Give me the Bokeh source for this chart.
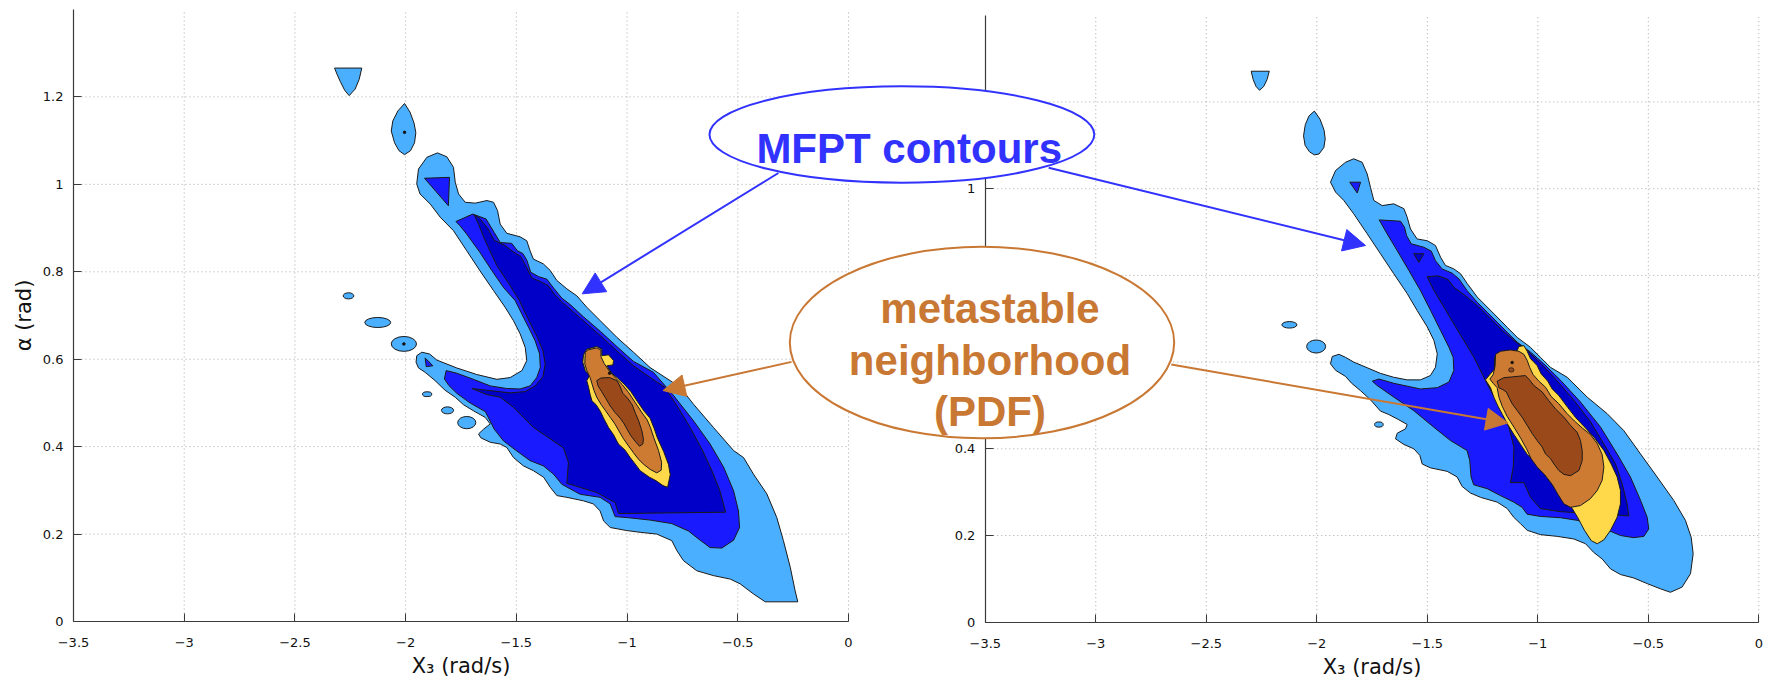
import math
from bokeh.plotting import figure
from bokeh.models import Range1d, LinearAxis, FixedTicker, Arrow, NormalHead
from bokeh.embed import file_html
from bokeh.resources import INLINE
from bokeh.core.properties import value

# ---------------- axes / labels ----------------
x_ticks = [-3.5, -3.0, -2.5, -2.0, -1.5, -1.0, -0.5, 0.0]
x_tick_labels = ["\u22123.5", "\u22123", "\u22122.5", "\u22122", "\u22121.5", "\u22121", "\u22120.5", "0"]
y_ticks = [0.0, 0.2, 0.4, 0.6, 0.8, 1.0, 1.2]
y_tick_labels = ["0", "0.2", "0.4", "0.6", "0.8", "1", "1.2"]
x_label = ["X\u2083 (rad/s)"]
y_label = ["\u03b1 (rad)"]
blue_note = ["MFPT contours"]
orange_note = ["metastable", "neighborhood", "(PDF)"]

# ---------------- left panel contour regions (X3, alpha) ----------------
L_LIGHT_MAIN = [(-1.942,1.035),(-1.904,1.062),(-1.856,1.072),(-1.814,1.063),(-1.784,1.039),(-1.776,1.005),(-1.761,0.978),(-1.731,0.959),(-1.686,0.957),(-1.633,0.963),(-1.603,0.959),(-1.585,0.940),(-1.573,0.909),(-1.543,0.888),(-1.483,0.880),(-1.453,0.871),(-1.438,0.848),(-1.423,0.829),(-1.378,0.818),(-1.347,0.803),(-1.317,0.780),(-1.272,0.761),(-1.227,0.745),(-1.182,0.719),(-1.121,0.688),(-1.046,0.650),(-0.971,0.616),(-0.896,0.581),
    (-0.851,0.566),(-0.760,0.536),(-0.700,0.497),(-0.610,0.444),(-0.519,0.391),(-0.474,0.375),(-0.429,0.337),(-0.369,0.292),(-0.324,0.238),(-0.294,0.185),(-0.263,0.124),(-0.241,0.070),(-0.229,0.045),(-0.376,0.045),(-0.429,0.063),(-0.489,0.086),(-0.534,0.097),(-0.610,0.105),(-0.685,0.116),(-0.745,0.139),(-0.775,0.162),(-0.798,0.185),(-0.866,0.200),(-0.941,0.204),(-1.001,0.208),(-1.076,0.215),(-1.106,0.230),(-1.122,0.253),(-1.152,0.269),(-1.197,0.276),(-1.272,0.284),(-1.317,0.288),(-1.347,0.307),(-1.377,0.330),(-1.423,0.345),(-1.468,0.356),(-1.513,0.375),(-1.543,0.398),(-1.573,0.406),
    (-1.618,0.410),(-1.660,0.420),(-1.671,0.429),(-1.648,0.440),(-1.618,0.452),(-1.641,0.467),(-1.694,0.482),(-1.739,0.496),(-1.776,0.513),(-1.822,0.529),(-1.867,0.551),(-1.912,0.570),(-1.942,0.580),(-1.953,0.593),(-1.950,0.608),(-1.927,0.616),(-1.892,0.612),
    (-1.859,0.598),(-1.769,0.580),(-1.679,0.565),(-1.588,0.554),(-1.528,0.558),(-1.475,0.574),(-1.453,0.597),(-1.460,0.627),(-1.483,0.658),(-1.513,0.688),(-1.551,0.719),
    (-1.603,0.757),(-1.664,0.802),(-1.724,0.848),(-1.784,0.894),(-1.844,0.925),(-1.889,0.955),(-1.935,0.978),(-1.950,1.001)]
L_LIGHT_CAP = [(-2.321,1.266),(-2.198,1.266),(-2.210,1.240),(-2.228,1.218),(-2.255,1.203),(-2.275,1.215),(-2.295,1.235),(-2.310,1.252)]
L_LIGHT_LENS = [(-2.005,1.185),(-1.980,1.165),(-1.962,1.140),(-1.954,1.118),(-1.960,1.095),(-1.978,1.077),(-2.005,1.068),(-2.030,1.077),(-2.050,1.095),(-2.065,1.122),(-2.058,1.145),(-2.035,1.168)]
L_BLOB_X = [-2.258, -2.126, -2.008, -1.903, -1.811, -1.724]
L_BLOB_Y = [0.745, 0.684, 0.635, 0.520, 0.483, 0.455]
L_BLOB_W = [0.048, 0.117, 0.114, 0.042, 0.055, 0.082]
L_BLOB_H = [0.014, 0.023, 0.034, 0.011, 0.016, 0.028]

L_MED_MAIN = [(-1.773,0.915),(-1.697,0.932),(-1.637,0.921),(-1.600,0.890),(-1.573,0.867),(-1.521,0.865),(-1.495,0.848),(-1.471,0.842),(-1.453,0.827),(-1.435,0.799),(-1.400,0.789),(-1.362,0.783),(-1.332,0.763),(-1.295,0.740),(-1.257,0.725),(-1.197,0.697),(-1.121,0.664),(-1.046,0.629),(-0.971,0.595),
    (-0.881,0.570),(-0.790,0.517),(-0.700,0.459),(-0.625,0.406),(-0.564,0.353),(-0.519,0.299),(-0.497,0.253),(-0.492,0.215),(-0.519,0.186),(-0.572,0.168),(-0.625,0.169),(-0.670,0.186),(-0.723,0.207),(-0.798,0.224),(-0.896,0.232),(-0.986,0.237),(-1.054,0.240),(-1.076,0.269),(-1.122,0.284),(-1.212,0.291),(-1.295,0.314),(-1.332,0.337),(-1.378,0.356),(-1.438,0.368),(-1.498,0.390),(-1.558,0.413),(-1.600,0.440),(-1.640,0.480),(-1.709,0.500),(-1.769,0.522),(-1.805,0.540),(-1.825,0.555),(-1.817,0.574),
    (-1.769,0.568),(-1.694,0.554),(-1.618,0.539),(-1.543,0.533),(-1.483,0.532),(-1.438,0.539),(-1.408,0.558),(-1.392,0.581),(-1.395,0.612),(-1.415,0.642),(-1.445,0.673),(-1.475,0.703),(-1.505,0.734),(-1.558,0.764),(-1.611,0.803),(-1.664,0.844),(-1.724,0.886),(-1.754,0.905)]
L_MED_TRI_TOP = [(-1.915,1.014),(-1.802,1.016),(-1.807,0.951)]
L_MED_TRI_TIP = [(-1.912,0.603),(-1.877,0.585),(-1.907,0.583)]

L_DARK_MAIN = [(-1.691,0.931),(-1.665,0.922),(-1.630,0.900),(-1.600,0.872),(-1.551,0.860),(-1.515,0.846),(-1.480,0.835),(-1.456,0.812),(-1.430,0.786),(-1.392,0.778),(-1.355,0.768),(-1.329,0.749),(-1.290,0.729),(-1.197,0.688),(-1.121,0.654),(-1.046,0.619),(-0.971,0.585),(-0.900,0.560),(-0.830,0.536),(-0.775,0.494),(-0.715,0.444),(-0.660,0.392),(-0.615,0.343),(-0.580,0.298),(-0.555,0.250),(-1.039,0.247),(-1.054,0.272),(-1.137,0.295),(-1.272,0.316),(-1.265,0.364),(-1.287,0.397),(-1.423,0.444),(-1.513,0.490),(-1.573,0.513),(-1.633,0.519),(-1.701,0.533),(-1.633,0.529),(-1.528,0.523),(-1.460,0.526),(-1.415,0.539),(-1.380,0.560),(-1.370,0.589),(-1.380,0.619),(-1.405,0.650),(-1.435,0.680),(-1.465,0.711),(-1.486,0.734),(-1.528,0.768),(-1.588,0.814),(-1.641,0.871),(-1.671,0.909)]

L_YELLOW = [(-1.197,0.610),(-1.182,0.623),(-1.137,0.629),(-1.114,0.623),(-1.114,0.608),(-1.084,0.610),(-1.061,0.597),(-1.064,0.587),(-1.091,0.585),(-1.073,0.570),(-1.043,0.557),(-1.013,0.543),(-0.983,0.526),(-0.953,0.503),(-0.923,0.481),(-0.896,0.465),(-0.878,0.442),(-0.863,0.420),(-0.835,0.389),(-0.813,0.359),(-0.805,0.336),(-0.817,0.307),(-0.838,0.311),(-0.869,0.322),(-0.899,0.330),(-0.941,0.345),(-0.963,0.360),(-0.986,0.375),(-1.009,0.392),(-1.039,0.406),(-1.061,0.427),(-1.084,0.444),(-1.106,0.465),(-1.121,0.481),(-1.140,0.496),(-1.159,0.505),(-1.167,0.520),(-1.174,0.536),(-1.182,0.551),(-1.170,0.562),(-1.189,0.574),(-1.200,0.593)]
L_ORANGE = [(-1.189,0.615),(-1.179,0.621),(-1.137,0.626),(-1.118,0.621),(-1.118,0.606),(-1.103,0.590),(-1.079,0.572),(-1.052,0.557),(-1.022,0.542),(-0.992,0.523),(-0.962,0.500),(-0.932,0.477),(-0.909,0.461),(-0.894,0.443),(-0.879,0.420),(-0.858,0.391),(-0.844,0.364),(-0.846,0.346),(-0.866,0.340),(-0.896,0.348),(-0.926,0.360),(-0.950,0.372),(-0.971,0.386),(-0.994,0.402),(-1.016,0.418),(-1.037,0.436),(-1.055,0.452),(-1.076,0.467),(-1.097,0.482),(-1.118,0.497),(-1.137,0.513),(-1.149,0.528),(-1.158,0.543),(-1.167,0.558),(-1.182,0.574),(-1.191,0.589)]
L_BROWN = [(-1.137,0.551),(-1.118,0.557),(-1.079,0.558),(-1.046,0.551),(-1.031,0.537),(-1.019,0.522),(-0.998,0.511),(-0.977,0.496),(-0.962,0.476),(-0.947,0.458),(-0.933,0.436),(-0.926,0.417),(-0.929,0.406),(-0.944,0.401),(-0.963,0.412),(-0.983,0.425),(-0.998,0.438),(-1.013,0.452),(-1.031,0.465),(-1.054,0.478),(-1.076,0.493),(-1.097,0.511),(-1.115,0.526),(-1.131,0.539)]
L_DOT_X = [-2.005, -2.008, -1.079]
L_DOT_Y = [1.119, 0.635, 0.568]

# ---------------- right panel contour regions (X3, alpha) ----------------
R_LIGHT_MAIN = [(-1.938,1.015),(-1.915,1.042),(-1.870,1.061),(-1.833,1.069),(-1.795,1.061),(-1.772,1.034),(-1.757,1.003),(-1.742,0.973),(-1.704,0.961),(-1.652,0.965),(-1.606,0.954),(-1.591,0.934),(-1.576,0.907),(-1.546,0.884),(-1.500,0.880),(-1.463,0.869),(-1.440,0.842),(-1.418,0.823),(-1.380,0.815),(-1.350,0.804),(-1.319,0.781),(-1.274,0.750),(-1.229,0.727),(-1.184,0.704),(-1.138,0.680),(-1.093,0.657),(-1.033,0.634),(-0.988,0.611),(-0.943,0.588),
    (-0.867,0.565),(-0.776,0.519),(-0.686,0.481),(-0.611,0.442),(-0.535,0.388),(-0.460,0.335),(-0.385,0.281),(-0.332,0.235),(-0.306,0.196),(-0.297,0.158),(-0.309,0.112),(-0.347,0.081),(-0.400,0.069),(-0.445,0.077),(-0.505,0.089),(-0.566,0.102),(-0.626,0.110),(-0.671,0.123),(-0.709,0.146),(-0.747,0.161),(-0.784,0.181),(-0.837,0.192),(-0.912,0.198),(-0.988,0.202),(-1.048,0.212),(-1.078,0.227),(-1.109,0.242),(-1.138,0.262),(-1.184,0.277),(-1.259,0.288),(-1.305,0.298),(-1.342,0.313),(-1.365,0.335),(-1.410,0.348),(-1.486,0.356),(-1.523,0.365),(-1.534,0.385),(-1.561,0.400),(-1.606,0.410),(-1.644,0.423),(-1.636,0.436),(-1.599,0.446),(-1.591,0.456),(-1.629,0.467),(-1.674,0.479),(-1.712,0.487),
    (-1.757,0.513),(-1.802,0.534),(-1.844,0.552),(-1.870,0.567),(-1.915,0.581),(-1.938,0.596),(-1.930,0.613),
    (-1.900,0.618),(-1.870,0.611),(-1.833,0.600),(-1.772,0.587),(-1.712,0.574),(-1.652,0.565),(-1.591,0.559),(-1.531,0.559),(-1.486,0.569),(-1.463,0.588),(-1.455,0.619),(-1.470,0.650),(-1.500,0.681),(-1.546,0.719),(-1.591,0.758),(-1.652,0.804),(-1.712,0.850),(-1.772,0.896),(-1.833,0.942),(-1.878,0.973),(-1.915,0.992)]
R_LIGHT_CAP = [(-2.297,1.271),(-2.215,1.271),(-2.225,1.252),(-2.240,1.236),(-2.259,1.227),(-2.275,1.236),(-2.288,1.252)]
R_LIGHT_LENS = [(-2.011,1.179),(-1.985,1.160),(-1.967,1.135),(-1.962,1.115),(-1.968,1.095),(-1.990,1.080),(-2.011,1.078),(-2.033,1.085),(-2.053,1.100),(-2.060,1.122),(-2.052,1.148),(-2.035,1.168)]
R_BLOB_X = [-2.124, -2.003, -1.719]
R_BLOB_Y = [0.686, 0.636, 0.456]
R_BLOB_W = [0.068, 0.086, 0.039]
R_BLOB_H = [0.015, 0.030, 0.012]

R_MED_MAIN = [(-1.718,0.928),(-1.621,0.925),(-1.603,0.911),(-1.594,0.892),(-1.573,0.873),(-1.516,0.865),(-1.482,0.856),(-1.463,0.834),(-1.433,0.815),(-1.387,0.805),(-1.357,0.792),(-1.320,0.765),(-1.274,0.738),(-1.229,0.715),(-1.184,0.692),(-1.139,0.669),(-1.093,0.646),(-1.033,0.623),
    (-0.973,0.596),(-0.897,0.558),(-0.807,0.508),(-0.716,0.450),(-0.641,0.388),(-0.581,0.335),(-0.535,0.281),(-0.505,0.242),(-0.498,0.215),(-0.520,0.198),(-0.566,0.195),(-0.626,0.200),(-0.686,0.213),(-0.747,0.225),(-0.822,0.235),(-0.897,0.241),(-0.988,0.244),(-1.048,0.249),(-1.071,0.265),(-1.109,0.277),(-1.169,0.292),(-1.229,0.308),(-1.290,0.317),(-1.302,0.335),(-1.308,0.373),(-1.320,0.396),(-1.395,0.419),(-1.471,0.450),(-1.561,0.488),
    (-1.651,0.519),(-1.727,0.546),(-1.749,0.556),(-1.719,0.561),(-1.651,0.551),(-1.531,0.538),(-1.455,0.541),(-1.402,0.554),(-1.380,0.581),(-1.383,0.611),(-1.402,0.634),(-1.440,0.673),(-1.485,0.719),(-1.531,0.765),(-1.583,0.811),(-1.636,0.857),(-1.682,0.896),(-1.712,0.923)]
R_MED_TRI = [(-1.851,1.015),(-1.802,1.015),(-1.817,0.990)]

R_DARK_MAIN = [(-1.501,0.797),(-1.452,0.799),(-1.407,0.791),(-1.380,0.773),(-1.320,0.750),(-1.267,0.727),(-1.214,0.700),(-1.161,0.673),(-1.108,0.650),(-1.048,0.627),(-0.985,0.596),(-0.915,0.558),(-0.835,0.511),(-0.765,0.465),(-0.710,0.419),(-0.648,0.365),(-0.618,0.319),(-0.596,0.273),(-0.588,0.245),(-0.656,0.248),(-0.807,0.252),(-0.897,0.255),(-0.988,0.262),(-1.033,0.288),(-1.063,0.322),(-1.124,0.322),(-1.111,0.358),(-1.108,0.404),(-1.131,0.450),(-1.169,0.496),(-1.214,0.535),(-1.244,0.565),(-1.289,0.611),(-1.335,0.650),(-1.380,0.688),(-1.425,0.727),(-1.470,0.765)]
R_DARK_TRI = [(-1.561,0.850),(-1.516,0.850),(-1.538,0.830)]

R_YELLOW = [(-1.237,0.559),(-1.214,0.573),(-1.196,0.584),(-1.196,0.611),(-1.169,0.623),(-1.124,0.625),(-1.093,0.627),(-1.086,0.636),(-1.063,0.638),(-1.048,0.625),(-1.033,0.608),(-1.003,0.592),(-0.985,0.573),(-0.955,0.556),(-0.935,0.538),(-0.905,0.523),(-0.864,0.495),(-0.829,0.472),(-0.784,0.448),(-0.743,0.425),(-0.701,0.396),(-0.668,0.365),(-0.641,0.335),(-0.626,0.304),(-0.626,0.273),(-0.641,0.242),(-0.671,0.212),(-0.701,0.190),(-0.731,0.181),(-0.758,0.188),(-0.789,0.212),(-0.819,0.241),(-0.844,0.262),(-0.875,0.285),(-0.920,0.308),(-0.955,0.331),(-0.988,0.354),(-1.018,0.372),(-1.048,0.387),(-1.078,0.410),(-1.108,0.433),(-1.136,0.456),(-1.160,0.479),(-1.181,0.499),(-1.199,0.519),(-1.214,0.541)]
R_ORANGE = [(-1.191,0.618),(-1.169,0.625),(-1.124,0.628),(-1.086,0.625),(-1.063,0.618),(-1.048,0.604),(-1.036,0.587),(-1.021,0.571),(-0.995,0.556),(-0.965,0.542),(-0.940,0.521),(-0.905,0.504),(-0.867,0.481),(-0.834,0.464),(-0.799,0.448),(-0.762,0.433),(-0.731,0.412),(-0.709,0.387),(-0.701,0.358),(-0.709,0.327),(-0.731,0.304),(-0.762,0.285),(-0.807,0.269),(-0.852,0.265),(-0.882,0.273),(-0.909,0.295),(-0.935,0.318),(-0.970,0.341),(-1.003,0.358),(-1.030,0.377),(-1.051,0.400),(-1.078,0.425),(-1.108,0.450),(-1.139,0.475),(-1.161,0.498),(-1.176,0.519),(-1.184,0.541),(-1.202,0.551),(-1.217,0.561),(-1.202,0.571),(-1.193,0.592)]
R_BROWN = [(-1.184,0.556),(-1.154,0.564),(-1.093,0.567),(-1.056,0.569),(-1.036,0.558),(-1.018,0.546),(-0.980,0.531),(-0.950,0.511),(-0.920,0.492),(-0.882,0.473),(-0.852,0.454),(-0.822,0.438),(-0.807,0.419),(-0.799,0.396),(-0.799,0.373),(-0.814,0.350),(-0.852,0.338),(-0.882,0.341),(-0.905,0.350),(-0.927,0.365),(-0.942,0.377),(-0.965,0.388),(-0.980,0.404),(-1.003,0.419),(-1.025,0.435),(-1.048,0.454),(-1.071,0.473),(-1.093,0.488),(-1.116,0.504),(-1.131,0.519),(-1.142,0.531),(-1.157,0.536),(-1.176,0.541)]
R_SPOT_X = [-1.120]
R_SPOT_Y = [0.582]
R_SPOT_W = [0.024]
R_SPOT_H = [0.010]
R_DOT_X = [-1.116]
R_DOT_Y = [0.599]

# ---------------- styling ----------------
EDGE = "#1a1a1a"
C_LIGHT = "#4aafff"
C_MED = "#1a1aff"
C_DARK = "#0000c8"
C_YEL = "#ffd94a"
C_ORA = "#cd7b33"
C_BRN = "#9a4a1a"
AXIS_C = "#3a3a3a"
GRID_C = "#a8a8a8"
BLUE_NOTE = "#3232ff"
ORANGE_NOTE = "#c97834"
TXT_C = "#111111"

# one drawing area for the whole page; each panel has its own pair of ranges
p = figure(width=1774, height=681, output_backend="svg", toolbar_location=None, tools="",
           x_axis_location=None, y_axis_location=None,
           x_range=Range1d(-3.8297, 4.1819), y_range=Range1d(-0.13726, 1.42059),
           min_border_left=0, min_border_right=0, min_border_top=0, min_border_bottom=0)
p.extra_x_ranges = {"xr": Range1d(-7.9561, 0.0710)}
p.extra_y_ranges = {"yr": Range1d(-0.13679, 1.43414)}
p.outline_line_color = None
p.background_fill_color = "white"
p.border_fill_color = "white"
p.grid.visible = False

RIGHT = dict(x_range_name="xr", y_range_name="yr")
LEFT = {}

# dotted grid lines, each panel
gx = x_ticks[1:]
gy = y_ticks[1:]
for rng in (LEFT, RIGHT):
    p.segment(x0=gx, y0=[0.0] * len(gx), x1=gx, y1=[1.4] * len(gx),
              line_color=GRID_C, line_dash="1 3", line_width=1, level="underlay", **rng)
    p.segment(x0=[-3.5] * len(gy), y0=gy, x1=[0.0] * len(gy), y1=gy,
              line_color=GRID_C, line_dash="1 3", line_width=1, level="underlay", **rng)


def add_polys(polys, color, rng):
    xs = [[pt[0] for pt in poly] for poly in polys]
    ys = [[pt[1] for pt in poly] for poly in polys]
    p.patches(xs=xs, ys=ys, fill_color=color, line_color=EDGE, line_width=1.0, **rng)


# left panel
add_polys([L_LIGHT_MAIN, L_LIGHT_CAP, L_LIGHT_LENS], C_LIGHT, LEFT)
p.ellipse(x=L_BLOB_X, y=L_BLOB_Y, width=L_BLOB_W, height=L_BLOB_H,
          fill_color=C_LIGHT, line_color=EDGE, line_width=1.0)
add_polys([L_MED_MAIN, L_MED_TRI_TOP, L_MED_TRI_TIP], C_MED, LEFT)
add_polys([L_DARK_MAIN], C_DARK, LEFT)
add_polys([L_YELLOW], C_YEL, LEFT)
add_polys([L_ORANGE], C_ORA, LEFT)
add_polys([L_BROWN], C_BRN, LEFT)
p.scatter(x=L_DOT_X, y=L_DOT_Y, size=2.5, color=TXT_C)

# right panel
add_polys([R_LIGHT_MAIN, R_LIGHT_CAP, R_LIGHT_LENS], C_LIGHT, RIGHT)
p.ellipse(x=R_BLOB_X, y=R_BLOB_Y, width=R_BLOB_W, height=R_BLOB_H,
          fill_color=C_LIGHT, line_color=EDGE, line_width=1.0, **RIGHT)
add_polys([R_MED_MAIN, R_MED_TRI], C_MED, RIGHT)
add_polys([R_DARK_MAIN, R_DARK_TRI], C_DARK, RIGHT)
add_polys([R_YELLOW], C_YEL, RIGHT)
add_polys([R_ORANGE], C_ORA, RIGHT)
add_polys([R_BROWN], C_BRN, RIGHT)
p.ellipse(x=R_SPOT_X, y=R_SPOT_Y, width=R_SPOT_W, height=R_SPOT_H,
          fill_color=C_BRN, line_color=EDGE, line_width=0.8, **RIGHT)
p.scatter(x=R_DOT_X, y=R_DOT_Y, size=2.5, color=TXT_C, **RIGHT)


# ---------------- axes (anchored at each panel's origin) ----------------
def make_axis(ticks, labels, bounds, loc, standoff, side, rng):
    ax = LinearAxis(fixed_location=loc, bounds=bounds, **rng)
    ax.ticker = FixedTicker(ticks=ticks)
    ax.major_label_overrides = dict(zip(ticks, labels))
    ax.major_tick_in = 8
    ax.major_tick_out = 0
    ax.minor_tick_in = 0
    ax.minor_tick_out = 0
    ax.axis_line_color = AXIS_C
    ax.axis_line_width = 1.2
    ax.major_tick_line_color = AXIS_C
    ax.major_label_text_font = "DejaVu Sans"
    ax.major_label_text_font_size = "13px"
    ax.major_label_text_color = TXT_C
    ax.major_label_standoff = standoff
    p.add_layout(ax, side)
    return ax


for rng in (LEFT, RIGHT):
    make_axis(x_ticks, x_tick_labels, (-3.5, 0.0), 1e-9, 17, "below", rng)
    make_axis(y_ticks, y_tick_labels, (0.0, 1.4), -3.5, 10, "left", rng)

# axis titles
p.text(x=[-1.75], y=[-0.1029], text=x_label, text_font=value("DejaVu Sans"),
       text_font_size=value("21px"), text_color=TXT_C, text_align="center",
       text_baseline="alphabetic")
p.text(x=[-1.75], y=[-0.1022], text=x_label, text_font=value("DejaVu Sans"),
       text_font_size=value("21px"), text_color=TXT_C, text_align="center",
       text_baseline="alphabetic", **RIGHT)
p.text(x=[-3.7235], y=[0.70], text=y_label, angle=math.pi / 2,
       text_font=value("DejaVu Sans"), text_font_size=value("21px"), text_color=TXT_C,
       text_align="center", text_baseline="middle")

# ---------------- call-outs ----------------
p.ellipse(x=[0.2411], y=[1.1140], width=[1.738], height=[0.2205], fill_color="white",
          line_color=BLUE_NOTE, line_width=2, level="annotation")
p.ellipse(x=[0.6029], y=[0.6382], width=[1.736], height=[0.4383], fill_color="white",
          line_color=ORANGE_NOTE, line_width=2, level="annotation")
p.text(x=[0.2741], y=[1.0827], text=blue_note, text_font=value("Liberation Sans"),
       text_font_style="bold", text_font_size=value("42px"), text_color=BLUE_NOTE,
       text_align="center", text_baseline="alphabetic", level="annotation")
p.text(x=[0.6390] * 3, y=[0.7151, 0.5977, 0.4815], text=orange_note,
       text_font=value("Liberation Sans"), text_font_style="bold",
       text_font_size=value("42px"), text_color=ORANGE_NOTE,
       text_align="center", text_baseline="alphabetic", level="annotation")

p.add_layout(Arrow(end=NormalHead(size=22, fill_color=BLUE_NOTE, line_color=BLUE_NOTE),
                   x_start=-0.3166, y_start=1.0260, x_end=-1.2027, y_end=0.7496,
                   line_color=BLUE_NOTE, line_width=2))
p.add_layout(Arrow(end=NormalHead(size=22, fill_color=BLUE_NOTE, line_color=BLUE_NOTE),
                   x_start=-3.2131, y_start=1.0484, x_end=-1.7796, y_end=0.8690,
                   line_color=BLUE_NOTE, line_width=2, **RIGHT))
p.add_layout(Arrow(end=NormalHead(size=22, fill_color=ORANGE_NOTE, line_color=ORANGE_NOTE),
                   x_start=-0.2574, y_start=0.5939, x_end=-0.8378, y_end=0.5284,
                   line_color=ORANGE_NOTE, line_width=2))
p.add_layout(Arrow(end=NormalHead(size=22, fill_color=ORANGE_NOTE, line_color=ORANGE_NOTE),
                   x_start=-2.6584, y_start=0.5944, x_end=-1.1348, y_end=0.4595,
                   line_color=ORANGE_NOTE, line_width=2, **RIGHT))

open("out.html", "w").write(file_html(p, INLINE))
